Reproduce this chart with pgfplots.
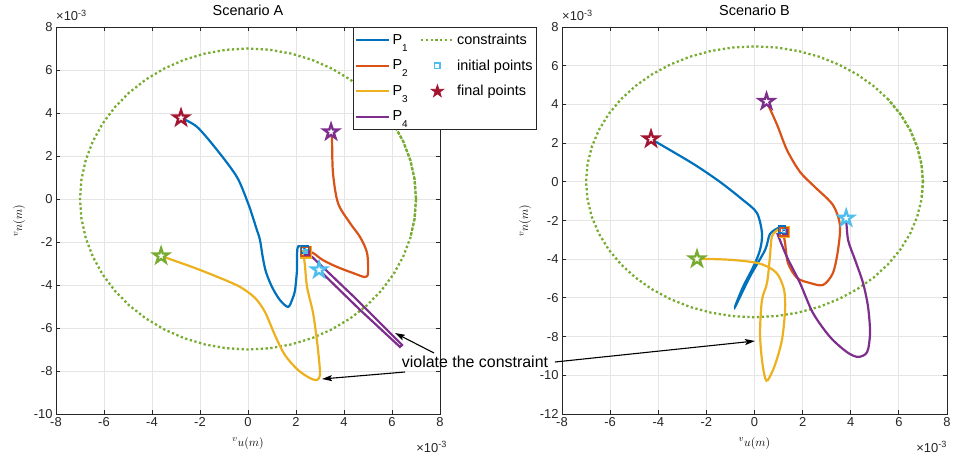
\documentclass[border=0pt]{standalone}
\usepackage{fontspec}
\setmainfont{Liberation Sans}
\usepackage{pgfplots}
\pgfplotsset{compat=1.18}
\usepackage{pgfplotstable}
\usetikzlibrary{arrows.meta}

\definecolor{c1}{rgb}{0,0.447,0.741}
\definecolor{c2}{rgb}{0.85,0.325,0.098}
\definecolor{c3}{rgb}{0.929,0.694,0.125}
\definecolor{c4}{rgb}{0.494,0.184,0.556}
\definecolor{c5}{rgb}{0.466,0.674,0.188}
\definecolor{c6}{rgb}{0.301,0.745,0.933}
\definecolor{c7}{rgb}{0.635,0.078,0.184}
\definecolor{axgray}{rgb}{0.15,0.15,0.15}

\pgfdeclareplotmark{pentagram}{%
  \pgfpathmoveto{\pgfpointpolar{90}{\pgfplotmarksize}}%
  \pgfpathlineto{\pgfpointpolar{126}{0.382\pgfplotmarksize}}%
  \pgfpathlineto{\pgfpointpolar{162}{\pgfplotmarksize}}%
  \pgfpathlineto{\pgfpointpolar{198}{0.382\pgfplotmarksize}}%
  \pgfpathlineto{\pgfpointpolar{234}{\pgfplotmarksize}}%
  \pgfpathlineto{\pgfpointpolar{270}{0.382\pgfplotmarksize}}%
  \pgfpathlineto{\pgfpointpolar{306}{\pgfplotmarksize}}%
  \pgfpathlineto{\pgfpointpolar{342}{0.382\pgfplotmarksize}}%
  \pgfpathlineto{\pgfpointpolar{18}{\pgfplotmarksize}}%
  \pgfpathlineto{\pgfpointpolar{54}{0.382\pgfplotmarksize}}%
  \pgfpathclose
  \pgfusepathqfillstroke
}

\newcommand{\sub}[1]{\raisebox{-7bp}{\fontsize{10}{10}\selectfont #1}}

% constraint circle (radius 7e-3)
\pgfplotstableread{
x y
7.000 0.000
6.940 0.914
6.761 1.812
6.467 2.679
6.062 3.500
5.553 4.261
4.950 4.950
4.261 5.553
3.500 6.062
2.679 6.467
1.812 6.761
0.914 6.940
0.000 7.000
-0.914 6.940
-1.812 6.761
-2.679 6.467
-3.500 6.062
-4.261 5.553
-4.950 4.950
-5.553 4.261
-6.062 3.500
-6.467 2.679
-6.761 1.812
-6.940 0.914
-7.000 0.000
-6.940 -0.914
-6.761 -1.812
-6.467 -2.679
-6.062 -3.500
-5.553 -4.261
-4.950 -4.950
-4.261 -5.553
-3.500 -6.062
-2.679 -6.467
-1.812 -6.761
-0.914 -6.940
0.000 -7.000
0.914 -6.940
1.812 -6.761
2.679 -6.467
3.500 -6.062
4.261 -5.553
4.950 -4.950
5.553 -4.261
6.062 -3.500
6.467 -2.679
6.761 -1.812
6.940 -0.914
7.000 0.000
}\circletab

\pgfplotstableread{
x y
6.761 -1.812
6.940 -0.914
7.000 0.000
6.940 0.914
6.761 1.812
6.467 2.679
6.062 3.500
5.553 4.261
4.950 4.950
}\arcA

\pgfplotstableread{
x y
6.940 -0.914
7.000 0.000
6.940 0.914
6.761 1.812
6.467 2.679
6.062 3.500
5.553 4.261
}\arcB

% ---------- Scenario A ----------
\pgfplotstableread{
x y
2.40 -2.30
2.10 -2.20
2.04 -2.60
2.04 -3.30
1.96 -4.23
1.85 -4.65
1.67 -5.02
1.33 -4.70
1.00 -4.09
0.75 -3.40
0.62 -2.74
0.50 -1.91
0.37 -1.44
0.17 -0.74
0.00 -0.19
-0.46 1.02
-1.29 2.28
-2.12 3.35
-2.79 3.77
}\PaA

\pgfplotstableread{
x y
2.40 -2.40
2.71 -2.51
3.12 -2.84
3.71 -3.16
4.37 -3.44
4.87 -3.63
5.00 -3.44
4.96 -2.51
4.67 -1.77
4.25 -1.12
3.75 -0.19
3.54 1.21
3.50 2.74
3.46 3.12
}\PbA

\pgfplotstableread{
x y
2.29 -2.37
2.37 -3.07
2.46 -4.09
2.71 -5.30
2.87 -6.56
2.96 -7.49
3.00 -8.19
2.87 -8.42
2.58 -8.33
2.08 -7.95
1.54 -7.26
1.12 -6.33
0.71 -5.26
0.29 -4.60
-0.33 -4.09
-1.17 -3.67
-2.21 -3.21
-3.04 -2.88
-3.62 -2.65
}\PcA

\pgfplotstableread{
x y
2.46 -2.47
4.46 -4.60
6.42 -6.79
6.33 -6.88
4.67 -5.16
2.96 -3.30
}\PdA

% ---------- Scenario B ----------
\pgfplotstableread{
x y
0.98 -2.39
0.64 -2.70
0.44 -3.52
-0.19 -4.90
-0.81 -6.47
-0.48 -5.44
-0.06 -4.42
0.23 -3.52
0.31 -2.65
0.10 -1.61
-0.48 -0.94
-1.43 -0.01
-2.47 0.87
-3.51 1.64
-4.30 2.21
}\PaB

\pgfplotstableread{
x y
1.18 -2.59
1.27 -3.16
1.39 -4.20
1.77 -4.97
2.31 -5.23
2.85 -5.33
3.26 -4.71
3.47 -3.52
3.55 -2.23
3.26 -1.20
2.51 -0.27
1.89 0.51
1.35 1.64
0.94 2.94
0.50 4.15
}\PbB

\pgfplotstableread{
x y
1.02 -2.44
0.73 -2.80
0.64 -3.89
0.52 -5.23
0.31 -6.11
0.23 -7.81
0.31 -9.21
0.44 -10.14
0.56 -10.24
0.85 -9.47
1.14 -8.18
1.27 -6.63
1.23 -5.59
0.98 -4.82
0.64 -4.45
0.10 -4.19
-0.89 -4.04
-1.85 -3.99
-2.39 -3.99
}\PcB

\pgfplotstableread{
x y
0.94 -2.65
1.35 -3.89
1.89 -5.23
2.43 -6.78
3.14 -8.02
3.84 -8.80
4.30 -9.05
4.68 -8.80
4.80 -7.81
4.72 -6.47
4.51 -5.23
4.18 -4.04
3.89 -3.01
3.81 -1.88
}\PdB

\pgfplotsset{
  myaxis/.style={
    scale only axis, width=384bp, height=387bp,
    xmin=-8, xmax=8, xtick={-8,-6,...,8},
    grid=major, grid style={color=black!10, line width=0.9bp},
    axis line style={color=axgray, line width=0.8bp},
    tick style={color=axgray, line width=0.8bp},
    major tick length=4bp, tick align=inside,
    tick label style={font=\fontsize{13}{13}\selectfont, color=axgray},
    /pgf/number format/assume math mode=true,
    xlabel={${}^{v}u(m)$}, ylabel={${}^{v}n(m)$},
    label style={font=\fontsize{13}{13}\selectfont},
    xlabel style={at={(axis description cs:0.5,-0.075)}, anchor=center},
    ylabel style={at={(axis description cs:-0.096,0.5)}, anchor=center},
    title style={font=\fontsize{14.5}{15}\selectfont, at={(axis description cs:0.5,1)}, anchor=south, yshift=2bp},
  },
  traj/.style={line width=2.2bp, smooth, forget plot},
  cstr/.style={c5, line width=2.3bp, dash pattern=on 2.3bp off 2.5bp, forget plot},
  cstr2/.style={c5, line width=2.3bp, dash pattern=on 2.3bp off 2.5bp, dash phase=2.4bp, forget plot},
  fin/.style={only marks, mark=pentagram, mark size=7.8bp, mark options={draw=#1, fill=white, line width=2.3bp}, forget plot},
  ini/.style={only marks, mark=square, mark options={draw=#1, fill=none, line width=1.6bp}, forget plot},
}

\begin{document}
\begin{tikzpicture}
\useasboundingbox (0,0) rectangle (953bp,460bp);

\begin{axis}[myaxis, name=A, at={(56bp,46bp)}, anchor=south west,
  ymin=-10, ymax=8, ytick={-10,-8,...,8},
  title={Scenario A},
  legend columns=2,
  legend cell align=left,
  legend style={at={(axis description cs:0.7734,1)}, anchor=north west,
    draw=axgray, line width=0.8bp, fill=white,
    font=\fontsize{14.5}{16}\selectfont,
    inner xsep=2bp, inner ysep=0bp,
    nodes={inner xsep=2bp, inner ysep=6.8bp},
    /tikz/every even column/.append style={column sep=10bp}},
  legend image code/.code={\draw[mark repeat=2, mark phase=2, #1] plot coordinates {(0bp,0bp) (16.5bp,0bp) (33bp,0bp)};},
]
\addplot[cstr] table {\circletab};
\addplot[cstr2] table {\arcA};
\addplot[traj, c1] table {\PaA};
\addplot[traj, c2] table {\PbA};
\addplot[traj, c3] table {\PcA};
\addplot[c4, line width=2.2bp, forget plot] table {\PdA};
\addplot[ini=c3, mark size=5.5bp] coordinates {(2.42,-2.48)};
\addplot[ini=c2, mark size=4.5bp] coordinates {(2.40,-2.45)};
\addplot[ini=c1, mark size=3.5bp] coordinates {(2.38,-2.35)};
\addplot[ini=c4, mark size=2.2bp] coordinates {(2.45,-2.50)};
\addplot[ini=c6, mark size=1.5bp] coordinates {(2.40,-2.45)};
\addplot[fin=c7] coordinates {(-2.79,3.77)};
\addplot[fin=c4] coordinates {(3.46,3.12)};
\addplot[fin=c5] coordinates {(-3.62,-2.65)};
\addplot[fin=c6] coordinates {(2.96,-3.30)};

\addlegendimage{c1, line width=2.2bp}
\addlegendentry{P\sub{1}}
\addlegendimage{c5, line width=2.3bp, dash pattern=on 2.3bp off 2.5bp}
\addlegendentry{constraints}
\addlegendimage{c2, line width=2.2bp}
\addlegendentry{P\sub{2}}
\addlegendimage{only marks, mark=square, mark size=2.7bp, mark options={draw=c6, fill=white, line width=1.5bp}}
\addlegendentry{initial points}
\addlegendimage{c3, line width=2.2bp}
\addlegendentry{P\sub{3}}
\addlegendimage{only marks, mark=pentagram, mark size=6.5bp, mark options={draw=c7, fill=c7, line width=0.8bp}}
\addlegendentry{final points}
\addlegendimage{c4, line width=2.2bp}
\addlegendentry{P\sub{4}}
\end{axis}

\begin{axis}[myaxis, name=B, at={(562bp,46bp)}, anchor=south west,
  width=385bp,
  ymin=-12, ymax=8, ytick={-12,-10,...,8},
  title={Scenario B},
]
\addplot[cstr] table {\circletab};
\addplot[cstr2] table {\arcB};
\addplot[traj, c1] table {\PaB};
\addplot[traj, c2] table {\PbB};
\addplot[traj, c3] table {\PcB};
\addplot[traj, c4] table {\PdB};
\addplot[ini=c3, mark size=5bp] coordinates {(1.25,-2.60)};
\addplot[ini=c2, mark size=4bp] coordinates {(1.22,-2.58)};
\addplot[ini=c1, mark size=3.5bp] coordinates {(1.15,-2.45)};
\addplot[ini=c4, mark size=2.2bp] coordinates {(1.25,-2.60)};
\addplot[ini=c6, mark size=1.5bp] coordinates {(1.22,-2.55)};
\addplot[fin=c7] coordinates {(-4.30,2.21)};
\addplot[fin=c4] coordinates {(0.50,4.15)};
\addplot[fin=c5] coordinates {(-2.39,-3.99)};
\addplot[fin=c6] coordinates {(3.81,-1.88)};
\end{axis}

% scale factors
\node[anchor=base west, inner sep=0, font=\fontsize{13}{13}\selectfont, text=axgray] at ([yshift=6bp]A.north west) {×10\textsuperscript{-3}};
\node[anchor=base west, inner sep=0, font=\fontsize{13}{13}\selectfont, text=axgray] at ([yshift=6bp]B.north west) {×10\textsuperscript{-3}};
\node[anchor=base east, inner sep=0, font=\fontsize{13}{13}\selectfont, text=axgray] at ([xshift=7bp,yshift=-38bp]A.south east) {×10\textsuperscript{-3}};
\node[anchor=base east, inner sep=0, font=\fontsize{13}{13}\selectfont, text=axgray] at ([yshift=-38bp]B.south east) {×10\textsuperscript{-3}};

% annotation
\draw[black, line width=1.1bp, -{Stealth[length=10bp,width=6bp,inset=2bp]}] (434bp,107bp) -- (395bp,127bp);
\draw[black, line width=1.1bp, -{Stealth[length=10bp,width=6bp,inset=2bp]}] (405bp,88bp) -- (322bp,81bp);
\draw[black, line width=1.1bp, -{Stealth[length=10bp,width=6bp,inset=2bp]}] (555bp,98bp) -- (755bp,119bp);
\node[font=\fontsize{16}{18}\selectfont, inner sep=0] at (475bp,98bp) {violate the constraint};
\end{tikzpicture}
\end{document}
